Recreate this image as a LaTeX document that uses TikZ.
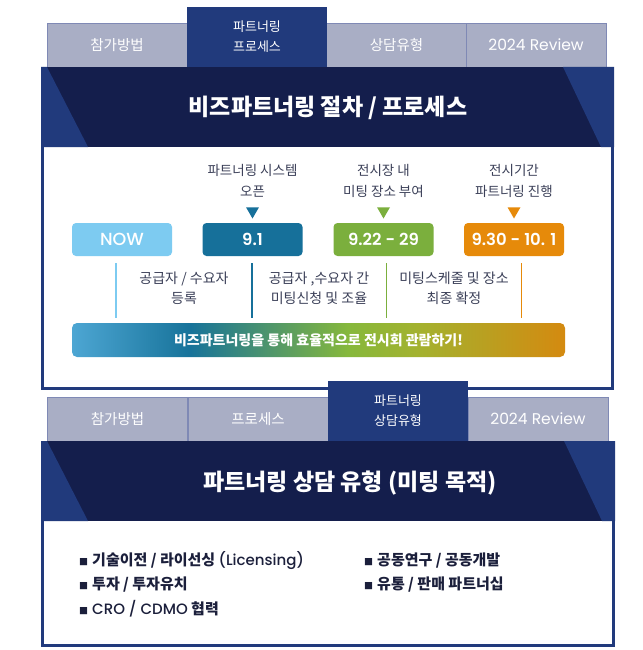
\documentclass[tikz,border=0pt]{standalone}
\usepackage{fontspec}
\setmainfont{Noto Sans CJK KR}
\newfontfamily\lat{Poppins}
\newfontfamily\latm{Poppins Medium}
\newfontfamily\lats{Poppins SemiBold}
\usetikzlibrary{shapes.geometric}
\definecolor{navy}{HTML}{141E4C}
\definecolor{navyl}{HTML}{213A7C}
\definecolor{tabg}{HTML}{A9AEC5}
\definecolor{tabb}{HTML}{7F89B5}
\definecolor{cnow}{HTML}{7DCBF1}
\definecolor{cteal}{HTML}{16709A}
\definecolor{cgreen}{HTML}{7BAF3D}
\definecolor{corange}{HTML}{E68A0A}
\definecolor{txt}{HTML}{3B4058}
\definecolor{itemtxt}{HTML}{1B1F3B}
\definecolor{ga}{HTML}{4DA6D3}
\definecolor{gb}{HTML}{17739A}
\definecolor{gc}{HTML}{86B83C}
\definecolor{gd}{HTML}{A3B22F}
\definecolor{ge}{HTML}{D48A10}
\pgfdeclarehorizontalshading{bargrad}{100bp}{color(0bp)=(ga); color(25bp)=(ga); color(37bp)=(gb); color(53bp)=(gc); color(60bp)=(gd); color(75bp)=(ge); color(100bp)=(ge)}
\tikzset{
  tabbox/.style={draw=tabb, line width=0.8pt, fill=tabg, text=white, inner sep=0pt,
    minimum width=140pt, minimum height=44pt, font=\fontsize{14.5}{16}\selectfont},
  acttab/.style={fill=navyl, text=white, inner sep=0pt, align=center,
    minimum width=140pt, minimum height=60pt, font=\fontsize{13}{20}\selectfont},
  heading/.style={text=white, font=\bfseries\fontsize{23}{26}\selectfont, inner sep=0pt},
  datebox/.style={rounded corners=4pt, minimum width=100pt, minimum height=33pt, inner sep=0pt,
    text=white, font=\latm\fontsize{17.5}{19}\selectfont},
  datebold/.style={font=\lats\fontsize{16.5}{19}\selectfont},
  tri/.style={regular polygon, regular polygon sides=3, shape border rotate=180,
    minimum size=15pt, inner sep=0pt, draw=none},
  lab/.style={text=txt, align=center, inner sep=0pt, font=\fontsize{13.5}{21}\selectfont},
  sep/.style={line width=1.5pt},
  item/.style={text=itemtxt, anchor=west, inner sep=0pt, font=\bfseries\fontsize{15}{17}\selectfont},
  frame/.style={draw=navyl, line width=3pt}
}
\newcommand{\bul}{{\fontsize{9}{9}\selectfont ■}\hspace{4pt}}
\begin{document}
\begin{tikzpicture}[x=1pt,y=-1pt]
\useasboundingbox (0,0) rectangle (642,650);
\fill[white] (0,0) rectangle (642,650);

% ---------- section 1 tabs ----------
\node[tabbox] (t1a) at (117,45) {참가방법};
\node[tabbox] (t1c) at (396.5,45) {상담유형};
\node[tabbox, font=\lat\fontsize{15.5}{17}\selectfont] (t1d) at (536,45) {2024 Review};
\node[acttab] (t1b) at (257,37) {파트너링\\프로세스};

% ---------- section 1 banner ----------
\fill[navy] (41,67) rectangle (614,147);
\fill[navyl] (41,67) -- (47,67) -- (88,147) -- (41,147) -- cycle;
\fill[navyl] (563,67) -- (614,67) -- (614,147) -- (601,147) -- cycle;
\draw[frame] (42.5,67) -- (42.5,388.5) -- (612.5,388.5) -- (612.5,67);
\node[heading] (h1) at (328,108) {비즈파트너링 절차 / 프로세스};

% ---------- timeline ----------
\node[lab] (a1) at (252.5,180.5) {파트너링 시스템\\오픈};
\node[lab] (a2) at (383.5,180.5) {전시장 내\\미팅 장소 부여};
\node[lab] (a3) at (514,180.5) {전시기간\\파트너링 진행};
\node[tri, fill=cteal] (tr1) at (252.5,211) {};
\node[tri, fill=cgreen] (tr2) at (383.5,211) {};
\node[tri, fill=corange] (tr3) at (514,211) {};

\node[datebox, fill=cnow] (now) at (122,239.5) {NOW};
\node[datebox, datebold, fill=cteal] (d1) at (252.5,239.5) {9.1};
\node[datebox, datebold, fill=cgreen] (d2) at (383.5,239.5) {9.22 - 29};
\node[datebox, datebold, fill=corange] (d3) at (514,239.5) {9.30 - 10. 1};

\coordinate (l1t) at (116,263); \coordinate (l1b) at (116,318);
\coordinate (l2t) at (252,263); \coordinate (l2b) at (252,318);
\coordinate (l3t) at (386.5,263); \coordinate (l3b) at (386.5,318);
\coordinate (l4t) at (521.5,263); \coordinate (l4b) at (521.5,318);
\draw[sep, draw=cnow] (l1t) -- (l1b);
\draw[sep, draw=cteal] (l2t) -- (l2b);
\draw[sep, draw=cgreen] (l3t) -- (l3b);
\draw[sep, draw=corange] (l4t) -- (l4b);

\node[lab, font=\fontsize{14}{20}\selectfont] (b1) at (184,288) {공급자 / 수요자\\등록};
\node[lab, font=\fontsize{14}{20}\selectfont] (b2) at (319,288) {공급자 ,수요자 간\\미팅신청 및 조율};
\node[lab, font=\fontsize{14}{20}\selectfont] (b3) at (454,288) {미팅스케줄 및 장소\\최종 확정};

\node[shade, shading=bargrad, rounded corners=5pt, minimum width=493pt, minimum height=34pt,
  inner sep=0pt, text=white, font=\bfseries\fontsize{14}{16}\selectfont] (bar) at (318.5,340)
  {비즈파트너링을 통해 효율적으로 전시회 관람하기!};

% ---------- section 2 tabs ----------
\node[tabbox] (t2a) at (117.5,419) {참가방법};
\node[tabbox] (t2b) at (258,419) {프로세스};
\node[tabbox, font=\lat\fontsize{15.5}{17}\selectfont] (t2d) at (538,419) {2024 Review};
\node[acttab] (t2c) at (398,411) {파트너링\\상담유형};

% ---------- section 2 banner ----------
\fill[navy] (41,441) rectangle (615,521);
\fill[navyl] (41,441) -- (47,441) -- (88,521) -- (41,521) -- cycle;
\fill[navyl] (564,441) -- (615,441) -- (615,521) -- (602,521) -- cycle;
\draw[frame] (42.5,441) -- (42.5,645.5) -- (613.5,645.5) -- (613.5,441);
\node[heading] (h2) at (350,483) {파트너링 상담 유형 (미팅 목적)};

% ---------- items ----------
\node[item] (i1) at (79,561) {\bul 기술이전 / 라이선싱 {\latm\mdseries (Licensing)}};
\node[item] (i2) at (79,585) {\bul 투자 / 투자유치};
\node[item] (i3) at (79,609) {\bul {\latm\mdseries CRO / CDMO} 협력};
\node[item] (i4) at (364,561) {\bul 공동연구 / 공동개발};
\node[item] (i5) at (364,585) {\bul 유통 / 판매 파트너십};
\end{tikzpicture}
\end{document}
